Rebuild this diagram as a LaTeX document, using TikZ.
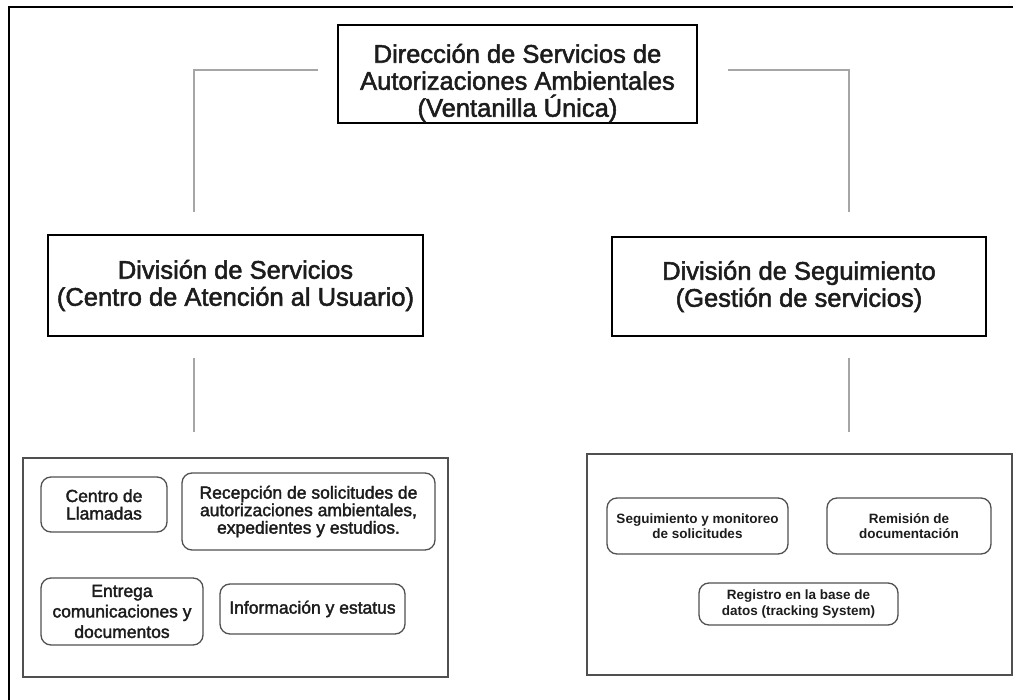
\documentclass[tikz,border=0pt]{standalone}
\usepackage{fontspec}
\setmainfont{Liberation Sans}
\newfontfamily\medsans{Liberation Sans}[FakeBold=2]
\definecolor{txt}{HTML}{1C1C1C}
\definecolor{linkgray}{HTML}{A6A6A6}
\definecolor{framegray}{HTML}{505050}
\tikzset{
  mainbox/.style={draw=black, line width=2.4pt, inner sep=0pt, align=center, text=txt,
    font=\medsans\fontsize{25.5}{27}\selectfont},
  titletext/.style={inner sep=0pt, align=center, text=txt, font=\medsans\fontsize{25.5}{27}\selectfont},
  container/.style={draw=framegray, line width=1.5pt, inner sep=0pt},
  item/.style={draw=framegray, line width=1.3pt, rounded corners=10pt, inner sep=0pt, align=center,
    text=txt, font=\medsans\fontsize{17.5}{17.5}\selectfont},
  itemb/.style={item, font=\fontsize{13.5}{15.5}\selectfont\bfseries},
  link/.style={draw=linkgray, line width=2.6pt},
  outerframe/.style={draw=black, line width=2.2pt}
}
\begin{document}
\begin{tikzpicture}[x=1pt,y=-1pt]
\useasboundingbox (0,0) rectangle (1013,700);
% outer frame (left and top only)
\draw[outerframe] (9,700) -- (9,7) -- (1013,7);

% top box
\node[mainbox, minimum width=359pt, minimum height=98pt] (top) at (517.5,74) {};
\node[titletext, yshift=-9pt] (toptext) at (top.center) {Dirección de Servicios de\\Autorizaciones Ambientales\\(Ventanilla Única)};

% division boxes
\node[mainbox, minimum width=375pt, minimum height=101pt] (divL) at (235.5,285.5)
  {División de Servicios\\(Centro de Atención al Usuario)};
\node[mainbox, minimum width=374pt, minimum height=99pt] (divR) at (799,286.5)
  {División de Seguimiento\\(Gestión de servicios)};

% containers
\node[container, minimum width=425pt, minimum height=219pt] (contL) at (235.5,567.5) {};
\node[container, minimum width=425pt, minimum height=221pt] (contR) at (799.5,564.5) {};

% left items
\node[item, minimum width=126pt, minimum height=55pt] (llamadas) at (104,504.5) {Centro de\\Llamadas};
\node[item, minimum width=253pt, minimum height=77pt] (recepcion) at (308.5,511.5)
  {Recepción de solicitudes de\\autorizaciones ambientales,\\expedientes y estudios.};
\node[item, minimum width=162pt, minimum height=67pt, font=\medsans\fontsize{17.5}{20.5}\selectfont] (entrega) at (122,611.5)
  {Entrega\\comunicaciones y\\documentos};
\node[item, minimum width=185pt, minimum height=50pt] (info) at (312.5,609) {Información y estatus};

% right items
\node[itemb, minimum width=181pt, minimum height=56pt] (seguim) at (697.5,526)
  {Seguimiento y monitoreo\\de solicitudes};
\node[itemb, minimum width=164pt, minimum height=56pt] (remision) at (909,526)
  {Remisión de\\documentación};
\node[itemb, minimum width=199pt, minimum height=42pt] (registro) at (798.5,604)
  {Registro en la base de\\datos (tracking System)};

% connector end points (lines stop short of the boxes)
\coordinate (topL) at (318,70);
\coordinate (topR) at (728,70);
\coordinate (divLin) at (194,212);
\coordinate (divRin) at (849,212);
\coordinate (divLout) at (194,358);
\coordinate (divRout) at (849,358);
\coordinate (contLin) at (194,432);
\coordinate (contRin) at (849,432);

\draw[link] (topL) -| (divLin);
\draw[link] (topR) -| (divRin);
\draw[link] (divLout) -- (contLin);
\draw[link] (divRout) -- (contRin);
\end{tikzpicture}
\end{document}
